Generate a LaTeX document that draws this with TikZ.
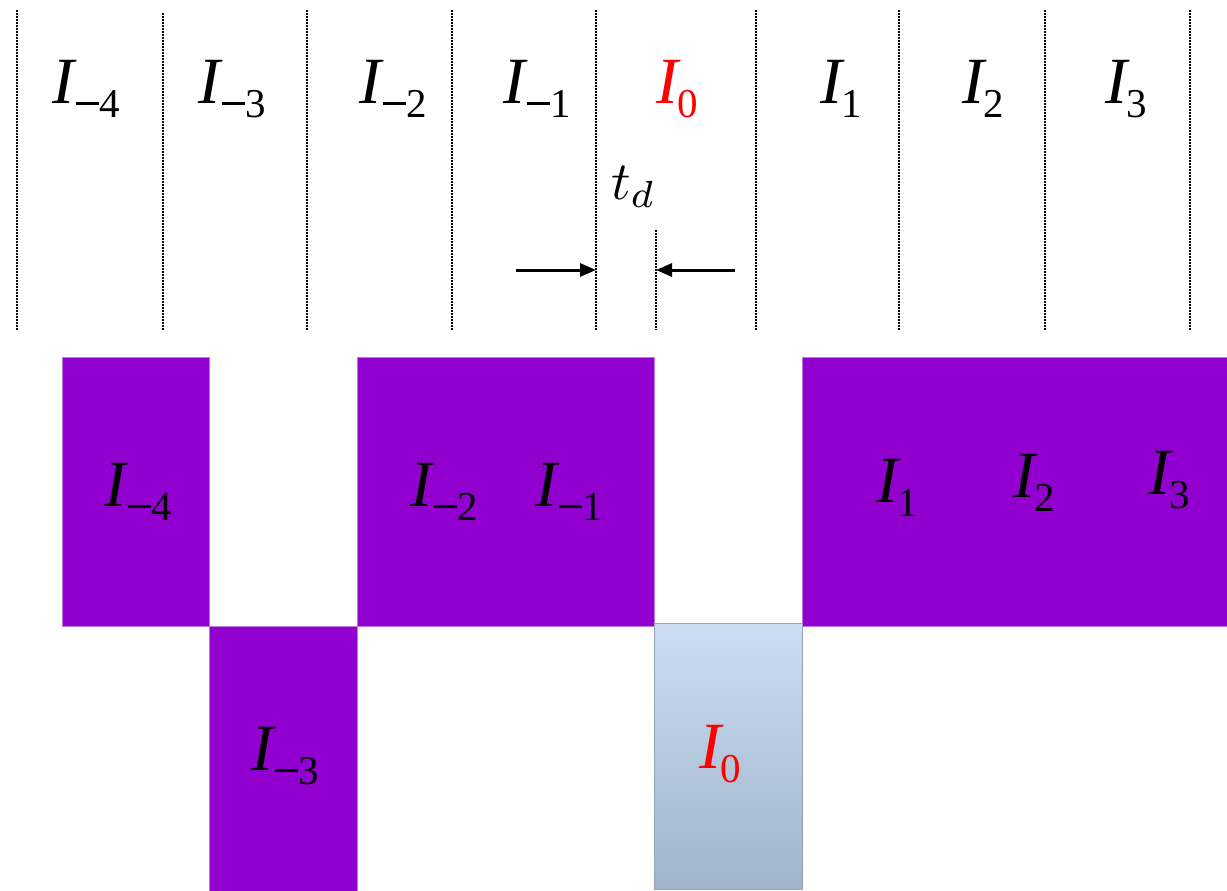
\documentclass[tikz,border=0pt]{standalone}
\usepackage{fontspec}
\usepackage{graphicx}
\setmainfont{Liberation Serif}
\usetikzlibrary{arrows.meta}
\definecolor{violetfill}{RGB}{146,0,208}
\definecolor{violetedge}{RGB}{190,120,225}
\definecolor{bluetop}{RGB}{203,221,241}
\definecolor{bluebot}{RGB}{160,180,202}
\definecolor{blueedge}{RGB}{150,162,185}
\newcommand\Il[1]{{\fontsize{66}{66}\selectfont\itshape I}\raisebox{-14pt}{\fontsize{41}{41}\selectfont #1}}
\newcommand\mn{\kern0.04em\rule[0.3em]{0.56em}{0.06em}\kern0.02em}
\tikzset{
  sep/.style={line width=1.6pt, dash pattern=on 1.6pt off 1.4pt, black},
  lab/.style={anchor=base west, inner sep=0pt, outer sep=0pt},
  slotbox/.style={fill=violetfill, draw=violetedge, line width=0.6pt},
  gap/.style={line width=3pt, -{Triangle[length=16pt,width=13pt]}}
}
\begin{document}
\begin{tikzpicture}[x=1pt,y=-1pt]
\useasboundingbox (0,0) rectangle (1227,891);
% dotted separators
\foreach \xx/\yy in {17/10,163/13,307/10,452/10,596/10,756/10,899/10,1045/10,1190/10}
  \draw[sep] (\xx,\yy) -- (\xx,330);
\draw[sep] (656,230) -- (656,330);
% top labels
\node[lab] (tm4) at (52,103) {\Il{\mn4}};
\node[lab] (tm3) at (198,103) {\Il{\mn3}};
\node[lab] (tm2) at (359,103) {\Il{\mn2}};
\node[lab] (tm1) at (503,103) {\Il{\mn1}};
\node[lab,text=red] (t0) at (656,103) {\Il{0}};
\node[lab] (t1) at (820,103) {\Il{1}};
\node[lab] (t2) at (962,103) {\Il{2}};
\node[lab] (t3) at (1105,103) {\Il{3}};
% t_d
\node[lab] (td) at (611,199) {\scalebox{5.4}{$t_d$}};
\coordinate (la) at (516,270);
\coordinate (lb) at (596,270);
\coordinate (ra) at (735,270);
\coordinate (rb) at (656,270);
\draw[gap] (la) -- (lb);
\draw[gap] (ra) -- (rb);
% slots
\path[slotbox] (62,357) rectangle (209,626);
\path[slotbox] (357,357) rectangle (654,626);
\path[slotbox] (802,357) rectangle (1228,626);
\path[slotbox] (209,626) rectangle (357,892);
\shade[top color=bluetop, bottom color=bluebot] (654,623) rectangle (802,889);
\draw[blueedge, line width=1pt] (654,623) rectangle (802,889);
% slot labels
\node[lab] (bm4) at (104,506) {\Il{\mn4}};
\node[lab] (bm2) at (410,506) {\Il{\mn2}};
\node[lab] (bm1) at (535,506) {\Il{\mn1}};
\node[lab] (b1) at (876,502) {\Il{1}};
\node[lab] (b2) at (1013,497) {\Il{2}};
\node[lab] (b3) at (1148,494) {\Il{3}};
\node[lab] (bm3) at (251,770) {\Il{\mn3}};
\node[lab,text=red] (b0) at (699,768) {\Il{0}};
\end{tikzpicture}
\end{document}
